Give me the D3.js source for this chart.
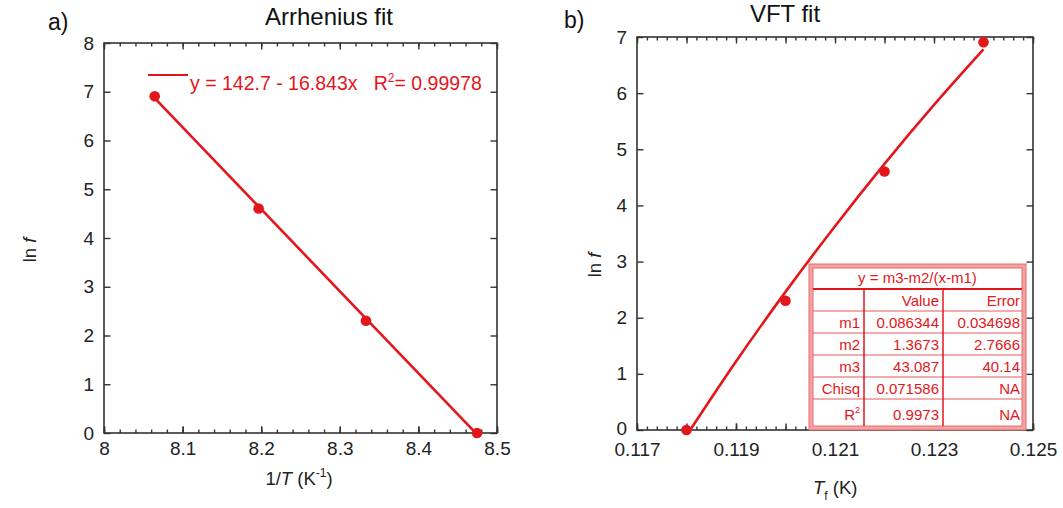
<!DOCTYPE html>
<html>
<head>
<meta charset="utf-8">
<title>Arrhenius and VFT fit</title>
<script src="https://d3js.org/d3.v7.min.js"></script>
<style>
  body { margin: 0; background: #fff; }
  svg { font-family: "Liberation Sans", Arial, sans-serif; }
  .axis path, .axis line { stroke: #333; stroke-width: 1.4; }
  .axis text { font-size: 19px; fill: #222; }
</style>
</head>
<body>
<div id="chart"></div>
<script>
// panel a: Arrhenius plot
var invT = [8.0645, 8.1967, 8.3333, 8.4746];
var lnF = [6.908, 4.605, 2.303, 0];
var arrFitX = [8.0645, 8.4746];
var arrFitY = [6.87, -0.03];
var arrXTicks = [8, 8.1, 8.2, 8.3, 8.4, 8.5];
var arrYTicks = [0, 1, 2, 3, 4, 5, 6, 7, 8];

// panel b: VFT plot
var tf = [0.118, 0.120, 0.122, 0.124];
var vftFitX = [0.118, 0.119, 0.120, 0.121, 0.122, 0.123, 0.124];
var vftFitY = [-0.1, 1.22, 2.46, 3.63, 4.74, 5.79, 6.78];
var vftXTicks = [0.117, 0.119, 0.121, 0.123, 0.125];
var vftYTicks = [0, 1, 2, 3, 4, 5, 6, 7];

var tableHead = ["", "Value", "Error"];
var tableRows = [
  ["m1", "0.086344", "0.034698"],
  ["m2", "1.3673", "2.7666"],
  ["m3", "43.087", "40.14"],
  ["Chisq", "0.071586", "NA"],
  ["R2", "0.9973", "NA"]
];

var red = "#e3161c";
var W = 1063, H = 508;

var svg = d3.select("#chart").append("svg")
    .attr("width", W).attr("height", H);

function range(a, b, step) {
  var out = [];
  var n = Math.round((b - a) / step);
  for (var i = 0; i <= n; i++) out.push(+(a + i * step).toFixed(6));
  return out;
}

function frame(g, x, y, xMinor, xMajorNoLabel) {
  var x0 = x.range()[0], x1 = x.range()[1];
  var y0 = y.range()[0], y1 = y.range()[1];
  // minor ticks, bottom and top
  g.append("g").attr("class", "axis").attr("transform", "translate(0," + y0 + ")")
    .call(d3.axisBottom(x).tickValues(xMinor).tickSize(-3.5).tickFormat(""))
    .select(".domain").remove();
  g.append("g").attr("class", "axis").attr("transform", "translate(0," + y1 + ")")
    .call(d3.axisTop(x).tickValues(xMinor).tickSize(-3.5).tickFormat(""))
    .select(".domain").remove();
  g.append("g").attr("class", "axis").attr("transform", "translate(0," + y0 + ")")
    .call(d3.axisBottom(x).tickValues(xMajorNoLabel).tickSize(-6.5).tickFormat(""))
    .select(".domain").remove();
  g.append("g").attr("class", "axis").attr("transform", "translate(0," + y1 + ")")
    .call(d3.axisTop(x).tickValues(xMajorNoLabel).tickSize(-6.5).tickFormat(""))
    .select(".domain").remove();
  g.append("rect")
    .attr("x", x0).attr("y", y1)
    .attr("width", x1 - x0).attr("height", y0 - y1)
    .attr("fill", "none").attr("stroke", "#333").attr("stroke-width", 1.6);
}

// ---------- panel a ----------
var xa = d3.scaleLinear().domain([8, 8.5]).range([104, 497]);
var ya = d3.scaleLinear().domain([0, 8]).range([433, 43]);
var ga = svg.append("g");

frame(ga, xa, ya, range(8, 8.5, 0.02), range(8, 8.5, 0.1));

ga.append("g").attr("class", "axis").attr("transform", "translate(0,433)")
  .call(d3.axisBottom(xa).tickValues(arrXTicks).tickSize(-6.5).tickPadding(9)
    .tickFormat(d3.format("")))
  .select(".domain").remove();
ga.append("g").attr("class", "axis").attr("transform", "translate(104,0)")
  .call(d3.axisLeft(ya).tickValues(arrYTicks).tickSize(-6.5).tickPadding(10)
    .tickFormat(d3.format("d")))
  .select(".domain").remove();
ga.append("g").attr("class", "axis").attr("transform", "translate(497,0)")
  .call(d3.axisRight(ya).tickValues(arrYTicks).tickSize(-6.5).tickFormat(""))
  .select(".domain").remove();

ga.append("path")
  .datum(d3.zip(arrFitX, arrFitY))
  .attr("fill", "none").attr("stroke", red).attr("stroke-width", 2.6)
  .attr("d", d3.line().x(function (d) { return xa(d[0]); }).y(function (d) { return ya(d[1]); }));

ga.selectAll("circle").data(d3.zip(invT, lnF)).enter().append("circle")
  .attr("cx", function (d) { return xa(d[0]); })
  .attr("cy", function (d) { return ya(d[1]); })
  .attr("r", 5.3).attr("fill", red);

// legend
ga.append("line").attr("x1", 148).attr("x2", 188).attr("y1", 75).attr("y2", 75)
  .attr("stroke", red).attr("stroke-width", 2);
var leg = ga.append("text").attr("x", 190).attr("y", 90)
  .attr("fill", red).style("font-size", "19.5px").attr("xml:space", "preserve");
leg.append("tspan").text("y = 142.7 - 16.843x   R");
leg.append("tspan").attr("dy", -8).style("font-size", "12px").text("2");
leg.append("tspan").attr("dy", 8).text("= 0.99978");

svg.append("text").attr("x", 329).attr("y", 25).attr("text-anchor", "middle")
  .style("font-size", "24px").attr("fill", "#111").text("Arrhenius fit");
svg.append("text").attr("x", 48).attr("y", 30)
  .style("font-size", "23px").attr("fill", "#111").text("a)");

var xla = svg.append("text").attr("x", 299).attr("y", 485).attr("text-anchor", "middle")
  .style("font-size", "18.5px").attr("fill", "#222");
xla.append("tspan").text("1/");
xla.append("tspan").style("font-style", "italic").text("T");
xla.append("tspan").text(" (K");
xla.append("tspan").attr("dy", -8).style("font-size", "12px").text("-1");
xla.append("tspan").attr("dy", 8).text(")");

var yla = svg.append("text").attr("transform", "translate(36,250) rotate(-90)")
  .attr("text-anchor", "middle").style("font-size", "18.5px").attr("fill", "#222");
yla.append("tspan").text("ln ");
yla.append("tspan").style("font-style", "italic").text("f");

// ---------- panel b ----------
var xb = d3.scaleLinear().domain([0.117, 0.125]).range([637, 1033]);
var yb = d3.scaleLinear().domain([0, 7]).range([430, 37]);
var gb = svg.append("g");

frame(gb, xb, yb, range(0.117, 0.125, 0.0002), range(0.117, 0.125, 0.001));

gb.append("g").attr("class", "axis").attr("transform", "translate(0,430)")
  .call(d3.axisBottom(xb).tickValues(vftXTicks).tickSize(-6.5).tickPadding(13)
    .tickFormat(d3.format(".3f")))
  .select(".domain").remove();
gb.append("g").attr("class", "axis").attr("transform", "translate(637,0)")
  .call(d3.axisLeft(yb).tickValues(vftYTicks).tickSize(-6.5).tickPadding(10)
    .tickFormat(d3.format("d")))
  .call(function (g) { g.selectAll("text").filter(function (d) { return d === 0; }).attr("dy", "0.25em"); })
  .select(".domain").remove();
gb.append("g").attr("class", "axis").attr("transform", "translate(1033,0)")
  .call(d3.axisRight(yb).tickValues(vftYTicks).tickSize(-6.5).tickFormat(""))
  .select(".domain").remove();

svg.append("clipPath").attr("id", "clipb").append("rect")
  .attr("x", 637).attr("y", 37).attr("width", 396).attr("height", 393);

gb.append("path")
  .datum(d3.zip(vftFitX, vftFitY))
  .attr("clip-path", "url(#clipb)")
  .attr("fill", "none").attr("stroke", red).attr("stroke-width", 2.6)
  .attr("d", d3.line().curve(d3.curveMonotoneX)
    .x(function (d) { return xb(d[0]); }).y(function (d) { return yb(d[1]); }));

gb.selectAll("circle").data(d3.zip(tf, lnF.slice().reverse())).enter().append("circle")
  .attr("cx", function (d) { return xb(d[0]); })
  .attr("cy", function (d) { return yb(d[1]); })
  .attr("r", 5.3).attr("fill", red);

// fit table
var tx = 811, ty = 266, tw = 213, th = 162;
var colX = [811, 864, 943, 1024];
var rowY = [289, 311, 333, 355, 377, 399, 428];
var tb = gb.append("g");
tb.append("rect").attr("x", tx).attr("y", ty).attr("width", tw).attr("height", th)
  .attr("fill", "#fff").attr("stroke", "#f3a3a3").attr("stroke-width", 4);
tb.append("rect").attr("x", tx - 2).attr("y", ty - 2).attr("width", tw + 4).attr("height", th + 4)
  .attr("fill", "none").attr("stroke", "#e86a6a").attr("stroke-width", 1);
tb.append("rect").attr("x", tx + 2).attr("y", ty + 2).attr("width", tw - 4).attr("height", th - 4)
  .attr("fill", "none").attr("stroke", "#e86a6a").attr("stroke-width", 1);
tb.append("line").attr("x1", tx + 2).attr("x2", tx + tw - 2).attr("y1", rowY[0]).attr("y2", rowY[0])
  .attr("stroke", red).attr("stroke-width", 2);
rowY.slice(1, 6).forEach(function (y) {
  tb.append("line").attr("x1", tx + 2).attr("x2", tx + tw - 2).attr("y1", y).attr("y2", y)
    .attr("stroke", "#e85a5a").attr("stroke-width", 1.2);
});
[colX[1], colX[2]].forEach(function (x) {
  tb.append("line").attr("x1", x).attr("x2", x).attr("y1", rowY[0]).attr("y2", ty + th - 2)
    .attr("stroke", red).attr("stroke-width", 1.5);
});
tb.append("text").attr("x", (tx + tx + tw) / 2).attr("y", 283).attr("text-anchor", "middle")
  .attr("fill", red).style("font-size", "15px").text("y = m3-m2/(x-m1)");

var allRows = [tableHead].concat(tableRows);
allRows.forEach(function (row, i) {
  var base = i < 5 ? rowY[i + 1] - 5 : rowY[i + 1] - 8;
  row.forEach(function (cell, j) {
    var t = tb.append("text").attr("x", colX[j + 1] - 4).attr("y", base)
      .attr("text-anchor", "end").attr("fill", red).style("font-size", "15px");
    if (cell === "R2") {
      t.append("tspan").text("R");
      t.append("tspan").attr("dy", -7).style("font-size", "9px").text("2");
    } else {
      t.text(cell);
    }
  });
});

svg.append("text").attr("x", 785).attr("y", 22).attr("text-anchor", "middle")
  .style("font-size", "24px").attr("fill", "#111").text("VFT fit");
svg.append("text").attr("x", 564).attr("y", 28)
  .style("font-size", "23px").attr("fill", "#111").text("b)");

var xlb = svg.append("text").attr("x", 813).attr("y", 494)
  .style("font-size", "18.5px").attr("fill", "#222");
xlb.append("tspan").style("font-style", "italic").text("T");
xlb.append("tspan").attr("dy", 6).style("font-size", "12px").text("f");
xlb.append("tspan").attr("dy", -6).text(" (K)");

var ylb = svg.append("text").attr("transform", "translate(601,265) rotate(-90)")
  .attr("text-anchor", "middle").style("font-size", "18.5px").attr("fill", "#222");
ylb.append("tspan").text("ln ");
ylb.append("tspan").style("font-style", "italic").text("f");
</script>
</body>
</html>
